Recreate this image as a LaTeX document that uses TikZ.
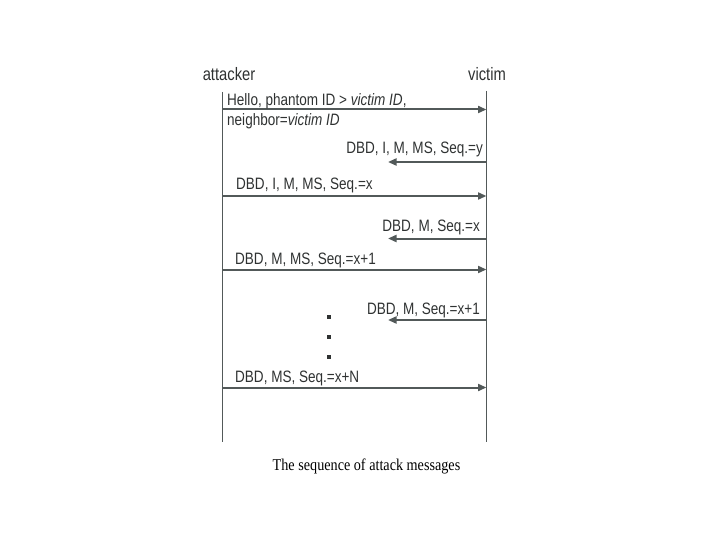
\documentclass[tikz,border=0pt]{standalone}
\usepackage{fontspec}
\setmainfont{Liberation Sans}[FakeStretch=0.82]
\newfontfamily\capfont{Liberation Serif}[FakeStretch=0.86]
\usetikzlibrary{arrows.meta}
\definecolor{lnc}{HTML}{525959}
\definecolor{txc}{HTML}{2F3232}
\tikzset{
  life/.style={draw=lnc, line width=1.6pt},
  msg/.style={draw=lnc, line width=2pt, -{Triangle[length=8.5pt,width=7pt]}},
  lbl/.style={inner sep=0pt, text=txc, font=\fontsize{16.5}{18}\selectfont},
  actor/.style={inner sep=0pt, text=txc, font=\fontsize{18}{20}\selectfont, anchor=base},
  dotm/.style={fill=txc, draw=none, minimum size=3.4pt, inner sep=0pt},
}
\begin{document}
\begin{tikzpicture}[x=1pt,y=-1pt]
\useasboundingbox (0,0) rectangle (720,540);
% actors
\node[actor] (att) at (229,81) {attacker};
\node[actor] (vic) at (487,81) {victim};
% lifelines
\coordinate (a0) at (222.5,92);
\coordinate (a1) at (222.5,441.7);
\coordinate (v0) at (486.5,91);
\coordinate (v1) at (486.5,441.7);
\draw[life] (a0) -- (a1);
\draw[life] (v0) -- (v1);
% message 1
\coordinate (m1a) at (222.5,109.5);
\coordinate (m1b) at (486.5,109.5);
\draw[msg] (m1a) -- (m1b);
\node[lbl, anchor=base west] (l1a) at (227,105.5) {Hello, phantom ID > \textit{victim ID},};
\node[lbl, anchor=base west] (l1b) at (227,126) {neighbor=\textit{victim ID}};
% message 2
\coordinate (m2a) at (486.5,162);
\coordinate (m2b) at (388,162);
\draw[msg] (m2a) -- (m2b);
\node[lbl, anchor=base east] (l2) at (483,154) {DBD, I, M, MS, Seq.=y};
% message 3
\coordinate (m3a) at (222.5,196);
\coordinate (m3b) at (486.5,196);
\draw[msg] (m3a) -- (m3b);
\node[lbl, anchor=base west] (l3) at (236,190) {DBD, I, M, MS, Seq.=x};
% message 4
\coordinate (m4a) at (486.5,238.5);
\coordinate (m4b) at (388,238.5);
\draw[msg] (m4a) -- (m4b);
\node[lbl, anchor=base east] (l4) at (480,231.5) {DBD, M, Seq.=x};
% message 5
\coordinate (m5a) at (222.5,269.5);
\coordinate (m5b) at (486.5,269.5);
\draw[msg] (m5a) -- (m5b);
\node[lbl, anchor=base west] (l5) at (235,264.5) {DBD, M, MS, Seq.=x+1};
% message 6
\coordinate (m6a) at (486.5,320);
\coordinate (m6b) at (388,320);
\draw[msg] (m6a) -- (m6b);
\node[lbl, anchor=base east] (l6) at (480,314.5) {DBD, M, Seq.=x+1};
% dots
\node[dotm] (d1) at (329,317) {};
\node[dotm] (d2) at (329,337) {};
\node[dotm] (d3) at (329,357) {};
% message 7
\coordinate (m7a) at (222.5,387.5);
\coordinate (m7b) at (486.5,387.5);
\draw[msg] (m7a) -- (m7b);
\node[lbl, anchor=base west] (l7) at (235,382.5) {DBD, MS, Seq.=x+N};
% caption
\node[inner sep=0pt, anchor=base, text=black, font=\capfont\fontsize{16.5}{18}\selectfont] (cap) at (366.5,470.5) {The sequence of attack messages};
\end{tikzpicture}
\end{document}
